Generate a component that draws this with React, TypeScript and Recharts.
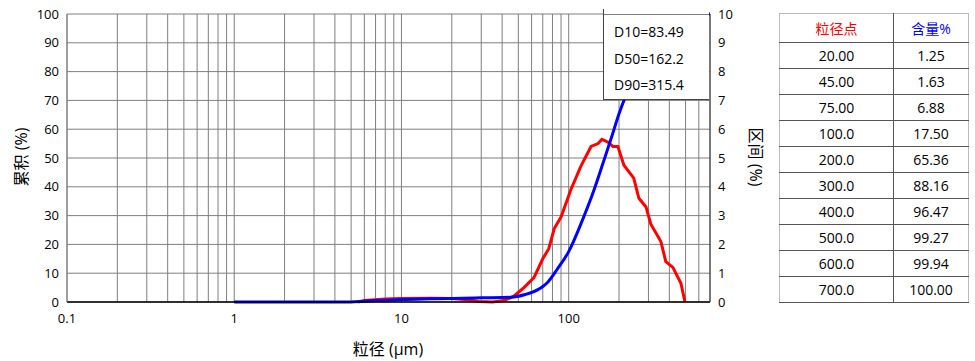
import React from 'react';
import { LineChart, Line, XAxis, YAxis, CartesianGrid } from 'recharts';

// cumulative curve (left axis, %)
const cumSizes = [1, 5, 6, 8, 10, 15, 20, 30, 45, 55, 65, 70, 75, 85, 100, 120, 140, 160, 180, 200, 250, 300, 400, 500, 600, 700];
const cumValues = [0, 0, 0.3, 0.6, 0.85, 1.1, 1.25, 1.45, 1.63, 2.6, 4.2, 5.4, 6.88, 11.2, 17.5, 28, 38, 48, 57, 65.36, 79, 88.16, 96.47, 99.27, 99.94, 100];

// differential curve (right axis, %)
const diffSizes = [5.5, 6, 8, 10, 15, 20, 25, 29, 35, 41, 47, 54, 62, 70, 76, 82, 90, 103, 118, 136, 150, 158, 172, 184, 197, 214, 245, 263, 290, 310, 356, 381, 420, 469, 496];
const diffValues = [0, 0.05, 0.1, 0.12, 0.13, 0.12, 0.08, 0.02, 0, 0.05, 0.2, 0.5, 0.85, 1.5, 1.85, 2.55, 2.95, 3.9, 4.7, 5.4, 5.5, 5.65, 5.55, 5.4, 5.4, 4.75, 4.3, 3.6, 3.3, 2.7, 2.1, 1.4, 1.2, 0.65, 0];

const xTicks = [0.1, 0.2, 0.3, 0.4, 0.5, 0.6, 0.7, 0.8, 0.9, 1, 2, 3, 4, 5, 6, 7, 8, 9, 10, 20, 30, 40, 50, 60, 70, 80, 90, 100, 200, 300, 400, 500, 600, 700];
const xLabels = [0.1, 1, 10, 100];
const leftTicks = [0, 10, 20, 30, 40, 50, 60, 70, 80, 90, 100];
const rightTicks = [0, 1, 2, 3, 4, 5, 6, 7, 8, 9, 10];

const dStats = ['D10=83.49', 'D50=162.2', 'D90=315.4'];

const tablePoints = ['20.00', '45.00', '75.00', '100.0', '200.0', '300.0', '400.0', '500.0', '600.0', '700.0'];
const tableContents = ['1.25', '1.63', '6.88', '17.50', '65.36', '88.16', '96.47', '99.27', '99.94', '100.00'];

const FONT = "'Open Sans', 'Noto Sans CJK SC', sans-serif";
const GRID = '#7f7f7f';

const cumData = cumSizes.map((s, i) => ({ size: s, value: cumValues[i] }));
const diffData = diffSizes.map((s, i) => ({ size: s, value: diffValues[i] }));

const cellStyle: React.CSSProperties = {
  borderBottom: '1px solid #555',
  textAlign: 'center',
  padding: 0,
  height: 25,
};

export default function App() {
  return (
    <div style={{ position: 'absolute', left: 0, top: 0, width: 975, height: 361, background: '#fff', fontFamily: FONT }}>
      <LineChart width={975} height={361} margin={{ top: 14, right: 225, bottom: 29, left: 0 }}>
        <CartesianGrid yAxisId="left" stroke={GRID} strokeWidth={1} />
        <XAxis
          dataKey="size"
          type="number"
          scale="log"
          domain={[0.1, 700]}
          ticks={xTicks}
          interval={0}
          allowDataOverflow
          height={30}
          tickLine={false}
          tickSize={6}
          tickMargin={6}
          axisLine={{ stroke: '#000', strokeWidth: 1.5 }}
          tick={{ fill: '#000', fontSize: 13 }}
          tickFormatter={(v: number) => (xLabels.includes(v) ? String(v) : '')}
        />
        <YAxis
          yAxisId="left"
          domain={[0, 100]}
          ticks={leftTicks}
          interval={0}
          width={67}
          tickLine={false}
          axisLine={{ stroke: GRID }}
          tick={{ fill: '#000', fontSize: 13 }}
        />
        <YAxis
          yAxisId="right"
          orientation="right"
          domain={[0, 10]}
          ticks={rightTicks}
          interval={0}
          width={40}
          tickLine={false}
          axisLine={{ stroke: '#333' }}
          tick={{ fill: '#000', fontSize: 13, textAnchor: 'start' }}
        />
        <Line
          yAxisId="right"
          data={diffData}
          dataKey="value"
          type="linear"
          stroke="#ff0000"
          strokeWidth={3}
          dot={false}
          isAnimationActive={false}
        />
        <Line
          yAxisId="left"
          data={cumData}
          dataKey="value"
          type="monotone"
          stroke="#0000ff"
          strokeWidth={3}
          dot={false}
          isAnimationActive={false}
        />
      </LineChart>

      <div style={{ position: 'absolute', left: 20, top: 157, transform: 'translate(-50%, -50%) rotate(-90deg)', fontSize: 16, whiteSpace: 'nowrap' }}>
        累积 (%)
      </div>
      <div style={{ position: 'absolute', left: 757, top: 157, transform: 'translate(-50%, -50%) rotate(90deg)', fontSize: 16, whiteSpace: 'nowrap' }}>
        区间 (%)
      </div>
      <div style={{ position: 'absolute', left: 388, top: 348, transform: 'translate(-50%, -50%)', fontSize: 16, whiteSpace: 'nowrap' }}>
        粒径 (μm)
      </div>

      <div
        style={{
          position: 'absolute',
          left: 603,
          top: 9,
          width: 106,
          height: 91,
          background: '#fff',
          borderLeft: '1px solid #444',
          borderBottom: '1px solid #444',
          paddingTop: 10,
          boxSizing: 'border-box',
          fontSize: 14,
        }}
      >
        <div style={{ position: 'absolute', left: 0, right: 0, top: 5, height: 1, background: GRID }} />
        {dStats.map((d) => (
          <div key={d} style={{ height: 26.5, lineHeight: '26.5px', paddingLeft: 10 }}>
            {d}
          </div>
        ))}
      </div>

      <table
        style={{
          position: 'absolute',
          left: 779,
          top: 13,
          width: 190,
          borderCollapse: 'collapse',
          fontSize: 14,
          borderLeft: '1px solid #bbb',
          borderTop: '1px solid #bbb',
          borderRight: '1px solid #bbb',
        }}
      >
        <tbody>
          <tr>
            <td style={{ ...cellStyle, height: 28, color: '#ff0000', borderRight: '1px solid #555', width: 113 }}>粒径点</td>
            <td style={{ ...cellStyle, height: 28, color: '#0000ff' }}>含量%</td>
          </tr>
          {tablePoints.map((p, i) => (
            <tr key={p}>
              <td style={{ ...cellStyle, borderRight: '1px solid #555' }}>{p}</td>
              <td style={cellStyle}>{tableContents[i]}</td>
            </tr>
          ))}
        </tbody>
      </table>
    </div>
  );
}
